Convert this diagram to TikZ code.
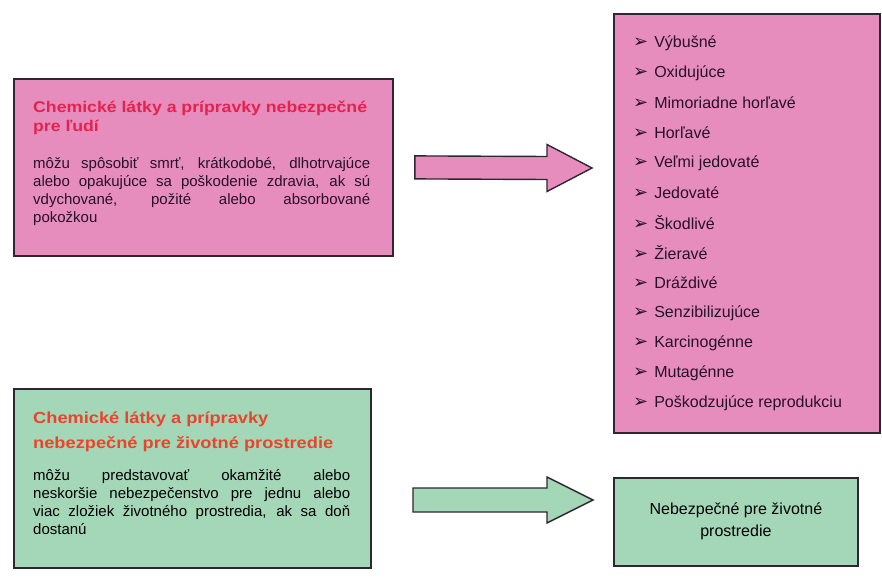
\documentclass[tikz,border=0pt]{standalone}
\usepackage{fontspec}
\setmainfont{Liberation Sans}
\newfontfamily\widefont[FakeStretch=1.14]{Liberation Sans}
\newfontfamily\dingfont{DejaVu Sans}
\usepackage{xcolor}
\usetikzlibrary{calc,positioning}

\definecolor{hazpink}{RGB}{231,141,190}
\definecolor{envgreen}{RGB}{164,215,184}
\definecolor{boxline}{RGB}{48,38,48}
\definecolor{titlered}{RGB}{228,34,78}
\definecolor{titleorange}{RGB}{234,68,42}
\definecolor{inkpurple}{RGB}{40,16,40}

\begin{document}
\begin{tikzpicture}[
    x=1pt, y=-1pt,
    every node/.style={font=\fontsize{15}{18}\selectfont},
    hazbox/.style={draw=boxline, line width=1.8pt, anchor=north west, inner sep=0pt},
    fatarrow/.style={draw=boxline, line width=1.4pt, line join=miter},
    titletext/.style={anchor=north west, inner sep=0pt, align=left},
    bodytext/.style={anchor=north west, inner sep=0pt, align=justify}
]

\useasboundingbox (0,0) rectangle (882,580);

% Boxes
\node[hazbox, fill=hazpink, minimum width=379pt, minimum height=177pt]
    (hum) at (13,78) {};
\node[hazbox, fill=hazpink, minimum width=266pt, minimum height=419pt]
    (list) at (613,13) {};
\node[hazbox, fill=envgreen, minimum width=357pt, minimum height=179pt]
    (env) at (13,388) {};
\node[hazbox, fill=envgreen, minimum width=244pt, minimum height=88pt]
    (envr) at (613,477) {};

% Human health
\node[titletext, text=titlered, font=\widefont\bfseries\fontsize{15.5}{19}\selectfont]
    (hum-t) at (33,101)
    {Chemické látky a prípravky nebezpečné\\pre ľudí};
\node[bodytext, text=inkpurple, text width=337pt] (hum-b) at (33,157)
    {môžu spôsobiť smrť, krátkodobé, dlhotrvajúce\linebreak
     alebo opakujúce sa poškodenie zdravia, ak sú\linebreak
     vdychované, požité alebo absorbované\linebreak
     pokožkou};

% Environment
\node[titletext, text=titleorange, font=\widefont\bfseries\fontsize{16}{25}\selectfont]
    (env-t) at (33,412)
    {Chemické látky a prípravky\\nebezpečné pre životné prostredie};
\node[bodytext, text width=317pt] (env-b) at (33,469)
    {môžu predstavovať okamžité alebo\linebreak
     neskoršie nebezpečenstvo pre jednu alebo\linebreak
     viac zložiek životného prostredia, ak sa doň\linebreak
     dostanú};

% Hazard list
\foreach \item [count=\i] in {Výbušné, Oxidujúce, Mimoriadne horľavé, Horľavé,
    Veľmi jedovaté, Jedovaté, Škodlivé, Žieravé, Dráždivé, Senzibilizujúce,
    Karcinogénne, Mutagénne, Poškodzujúce reprodukciu}
{
    \node[anchor=west, inner sep=0pt, text=inkpurple, font=\fontsize{16}{18}\selectfont]
        (it-\i) at (633,{43+30*(\i-1)})
        {{\dingfont\bfseries\fontsize{18}{18}\selectfont ➢}\hspace{6pt}\item};
}

\node[align=center, inner sep=0pt, font=\fontsize{16}{22}\selectfont]
    (envr-t) at ([yshift=1pt]envr.center)
    {Nebezpečné pre životné\\prostredie};

% Arrows
\coordinate (a1s) at ([xshift=21pt]hum.east);
\coordinate (a1e) at (592,168);
\draw[fatarrow, fill=hazpink]
    ($(a1s)+(0,-11.5)$) -- ($(a1e)+(-45,-11.5)$) -- ($(a1e)+(-45,-23.5)$)
    -- (a1e) -- ($(a1e)+(-45,23.5)$) -- ($(a1e)+(-45,11.5)$)
    -- ($(a1s)+(0,11.5)$) -- cycle;

\coordinate (a2s) at (413,500);
\coordinate (a2e) at (593,500);
\draw[fatarrow, fill=envgreen]
    ($(a2s)+(0,-12)$) -- ($(a2e)+(-46,-12)$) -- ($(a2e)+(-46,-23)$)
    -- (a2e) -- ($(a2e)+(-46,23)$) -- ($(a2e)+(-46,12)$)
    -- ($(a2s)+(0,12)$) -- cycle;

\end{tikzpicture}
\end{document}
